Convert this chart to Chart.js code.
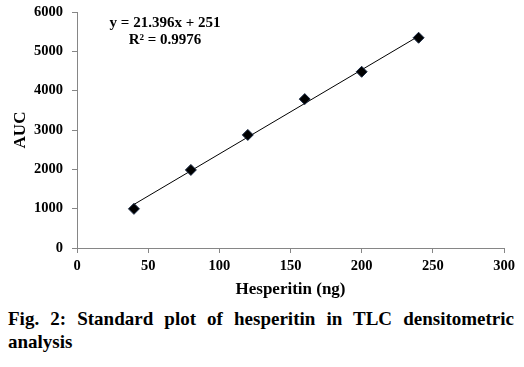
<!DOCTYPE html>
<html>
<head>
<meta charset="UTF-8">
<title>Standard plot of hesperitin</title>
<script src="https://cdn.jsdelivr.net/npm/chart.js"></script>
<style>
body { margin: 0; background: #fff; }
#wrap { position: relative; width: 524px; height: 367px; }
#chartBox { position: absolute; left: 0; top: 0; width: 524px; height: 300px; }
.cap { position: absolute; left: 8px; width: 506px; font-family: "Liberation Serif", serif; font-weight: bold; font-size: 19px; color: #000; }
#cap1 { top: 308px; text-align: justify; text-align-last: justify; }
#cap2 { top: 331px; }
</style>
<script>
// data
const amounts = [40, 80, 120, 160, 200, 240];          // Hesperitin (ng)
const aucValues = [995, 1985, 2875, 3785, 4480, 5345];  // AUC
const trendX = [40, 240];
const trendY = [1107, 5386];                            // y = 21.396x + 251
const xTicks = [0, 50, 100, 150, 200, 250, 300];
const yTicks = [0, 1000, 2000, 3000, 4000, 5000, 6000];
const eqText = ['y = 21.396x + 251', 'R\u00b2 = 0.9976'];

window.onload = function () {
	const pts = amounts.map(function (v, i) { return { x: v, y: aucValues[i] }; });
	const line = trendX.map(function (v, i) { return { x: v, y: trendY[i] }; });
	const axisGray = '#868686';
	const serif = '"Liberation Serif", "Times New Roman", serif';

	const eqPlugin = {
		id: 'eq',
		afterDraw: function (chart) {
			const c = chart.ctx;
			c.save();
			c.fillStyle = '#000';
			c.font = 'bold 15px ' + serif;
			c.textAlign = 'center';
			c.textBaseline = 'middle';
			c.fillText(eqText[0], 165, 23);
			c.fillText(eqText[1], 165, 40);
			c.restore();
		}
	};

	new Chart(document.getElementById('myChart'), {
		type: 'scatter',
		data: {
			datasets: [{
				label: 'AUC',
				data: pts,
				pointStyle: 'rectRot',
				pointRadius: 5.5,
				backgroundColor: '#000',
				borderColor: '#1a2a44',
				borderWidth: 1,
				order: 1
			}, {
				label: 'Linear',
				type: 'line',
				data: line,
				borderColor: '#000',
				borderWidth: 1,
				pointRadius: 0,
				fill: false,
				order: 2
			}]
		},
		options: {
			responsive: false,
			animation: false,
			layout: { padding: { left: 0, right: 20, top: 12, bottom: 0 } },
			plugins: { legend: { display: false }, tooltip: { enabled: false } },
			scales: {
				x: {
					type: 'linear', min: 0, max: 300,
					afterBuildTicks: function (s) { s.ticks = xTicks.map(function (v) { return { value: v }; }); },
					afterFit: function (s) { s.height = 52; s.paddingLeft = 0; s.paddingRight = 0; },
					grid: { drawOnChartArea: false, drawTicks: true, tickLength: 5, color: axisGray },
					border: { color: axisGray, width: 1 },
					ticks: { color: '#000', padding: 5, callback: function (v) { return String(v); }, font: { family: serif, weight: 'bold', size: 14.5 } },
					title: { display: true, text: 'Hesperitin (ng)', color: '#000', padding: { top: 2, bottom: 0 }, font: { family: serif, weight: 'bold', size: 17 } }
				},
				y: {
					type: 'linear', min: 0, max: 6000,
					afterBuildTicks: function (s) { s.ticks = yTicks.map(function (v) { return { value: v }; }); },
					afterFit: function (s) { s.width = 77; s.paddingTop = 0; s.paddingBottom = 0; },
					grid: { drawOnChartArea: false, drawTicks: true, tickLength: 5, color: axisGray },
					border: { color: axisGray, width: 1 },
					ticks: { color: '#000', padding: 9, callback: function (v) { return String(v); }, font: { family: serif, weight: 'bold', size: 14.5 } },
					title: { display: true, text: 'AUC', color: '#000', padding: { top: 10, bottom: 0 }, font: { family: serif, weight: 'bold', size: 17 } }
				}
			}
		},
		plugins: [eqPlugin]
	});
};
</script>
</head>
<body>
<div id="wrap">
	<div id="chartBox"><canvas id="myChart" width="524" height="300"></canvas></div>
	<div class="cap" id="cap1">Fig. 2: Standard plot of hesperitin in TLC densitometric</div>
	<div class="cap" id="cap2">analysis</div>
</div>
</body>
</html>
